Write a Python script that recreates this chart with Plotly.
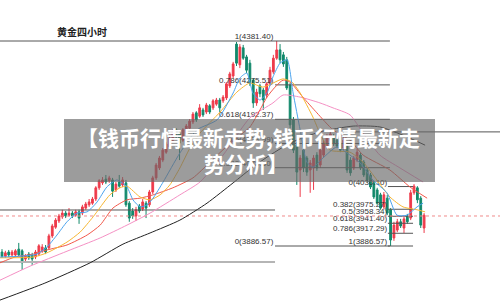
import plotly.graph_objects as go

# ---------------- data ----------------
open_ = [3872,3862,3872,3865,3865,3879,3875,3855,3867,3865,3860,3867,3875,3882,3882,3911,3932,3947,3957,3966,
         3961,3966,3961,3969,3966,3978,3986,3990,4000,4027,4039,4048,4044,4046,4022,4041,4034,4039,3990,3971,
         3959,3983,3976,3990,3986,4017,4051,4075,4094,4113,4126,4142,4167,4159,4142,4159,4171,4186,4208,4200,
         4215,4210,4225,4220,4229,4239,4237,4244,4273,4297,4374,4324,4365,4343,4328,4287,4232,4273,4263,4251,
         4278,4307,4340,4360,4348,4336,4275,4191,4130,4070,4118,4099,4070,4075,4106,4082,4106,4126,4142,4150,
         4142,4135,4123,4128,4094,4075,4094,4106,4089,4070,4058,4039,4022,4010,3981,4002,3974,3906,3925,3945,
         3930,3959,3954,4015,4027,4002,3930]
high = [3879,3875,3877,3877,3879,3894,3879,3867,3872,3870,3877,3891,3891,3889,3916,3940,3954,3964,3974,3971,
        3978,3971,3974,3974,3986,3993,4000,4005,4031,4048,4053,4058,4056,4051,4041,4058,4053,4046,3995,3978,
        3981,3988,4000,3995,4022,4056,4087,4104,4123,4138,4152,4169,4171,4164,4171,4181,4193,4210,4212,4229,
        4220,4232,4229,4241,4244,4244,4251,4282,4307,4331,4379,4374,4372,4348,4336,4292,4266,4278,4268,4282,
        4319,4348,4381.4,4374,4355,4343,4280,4198,4138,4106,4126,4104,4094,4106,4113,4126,4142,4157,4164,4157,
        4147,4140,4150,4135,4101,4104,4121,4111,4094,4075,4063,4044,4027,4015,4017,4010,3978,3945,3952,3952,
        3959,3964,4022,4036,4031,4007,3966]
low = [3858,3858,3860,3862,3862,3862,3829,3850,3853,3841,3855,3862,3870,3867,3877,3906,3928,3942,3952,3954,
       3957,3954,3957,3940,3961,3974,3981,3986,3995,4022,4034,4036,4039,4005,4017,4027,4029,3981,3945,3952,
       3947,3966,3971,3954,3981,4012,4046,4070,4089,4109,4121,4138,4145,4094,4138,4155,4167,4181,4186,4196,
       4198,4205,4205,4215,4225,4210,4232,4239,4268,4292,4321,4316,4336,4304,4273,4220,4225,4246,4215,4244,
       4273,4302,4336,4328,4319,4263,4171,4111,4034,4005,4065,4056,4015,4022,4068,4075,4101,4121,4138,4128,
       4123,4113,4118,4063,4056,4070,4089,4070,4053,4041,4024,4000,3986,3974,3976,3961,3886.57,3899,3920,3930,
       3918,3940,3949,4010,3990,3930,3918]
close = [3862,3870,3865,3872,3875,3865,3846,3862,3858,3855,3872,3887,3884,3872,3911,3935,3949,3959,3966,3959,
         3966,3959,3969,3954,3981,3988,3993,4000,4027,4044,4046,4041,4051,4019,4036,4031,4046,3986,3954,3959,
         3974,3971,3993,3978,4017,4051,4082,4099,4118,4133,4147,4164,4150,4135,4167,4176,4188,4205,4191,4220,
         4203,4227,4210,4237,4239,4220,4246,4278,4302,4326,4328,4367,4340,4311,4280,4232,4258,4254,4239,4278,
         4311,4340,4360,4336,4326,4268,4179,4118,4065,4099,4075,4065,4087,4099,4075,4118,4135,4150,4157,4133,
         4128,4118,4142,4070,4063,4099,4113,4075,4058,4046,4029,4005,3990,3978,4010,3966,3901,3937,3945,3935,
         3952,3945,4015,4031,3998,3937,3961]
bars = list(range(len(close)))

# moving-average lines (bar position, price)
ma_fast_x = [-0.6,5.4,10.4,13.4,16.4,19.4,22.4,25.4,28.4,31.3,34.3,37.3,39.1,41.2,43.3,45.1,48.1,53.1,58.2,64.2,
             69.0,71.0,73.1,74.9,77.0,79.1,80.9,83.0,85.1,86.9,89.0,91.0,92.8,95.8,100.0,103.0,106.9,110.7,114.9,
             117.9,120.9,123.9,125.7]
ma_fast_y = [3860,3862,3867,3884,3913,3945,3966,3969,3993,4029,4046,4029,3998,3981,3986,4002,4041,4111,4167,4191,
             4256,4292,4304,4256,4239,4256,4295,4328,4336,4256,4167,4089,4077,4099,4126,4111,4087,4046,4015,
             3961,3961,3981,3990]
ma_mid_x = [-0.6,9.3,13.4,19.4,23.3,27.2,32.2,35.2,37.3,41.2,44.2,47.2,50.1,53.1,56.1,59.1,65.1,70.1,74.0,77.9,
            80.9,83.9,86.6,89.0,92.8,94.9,97.9,103.9,107.8,111.9,115.8,119.7,123.9,126.3]
ma_mid_y = [3858,3860,3870,3896,3920,3957,4010,4027,4031,4005,3998,4010,4034,4075,4123,4159,4210,4258,4280,4270,
            4280,4290,4282,4256,4198,4159,4118,4113,4089,4046,4005,3981,3974,3969]
ma_red_x = [-0.6,3.9,9.3,13.4,19.4,25.4,29.3,33.1,37.3,41.2,45.1,51.0,57.0,62.1,68.1,74.0,77.0,79.1,81.5,83.9,
            86.0,89.8,94.0,98.8,103.9,107.8,115.8,121.8,126.9]
ma_red_y = [3846,3860,3867,3877,3889,3913,3937,3978,3998,4002,4010,4027,4051,4089,4135,4174,4215,4246,4270,4287,
            4282,4246,4208,4167,4142,4106,4070,4029,4002]
ma_pink_x = [-0.6,8.4,19.4,29.3,37.3,44.2,53.1,59.1,66.0,74.0,80.9,83.9,89.0,94.9,98.8,103.9,107.8,112.8,118.8,125.7]
ma_pink_y = [3804,3838,3874,3906,3937,3966,4010,4041,4106,4196,4232,4251,4246,4232,4220,4203,4159,4106,4075,4041]
ma_long_x = [-0.6,12.8,26.3,36.1,44.2,53.1,61.2,69.0,74.9,79.1,86.0,94.9,104.8,112.8,120.3,126.3]
ma_long_y = [3756,3797,3846,3891,3918,3949,3990,4039,4077,4101,4135,4162,4176,4174,4152,4130]

# Fibonacci tools
fib_a_high, fib_a_low = 4381.40, 3886.57
fib_a_levels = [1, 0.786, 0.618, 0.5, 0.382, 0]
fib_a_labels = ["1(4381.40)", "0.786(4275.51)", "0.618(4192.37)", "0.5(4133.99)", "0.382(4075.60)", "0(3886.57)"]
fib_b_top, fib_b_bottom = 4030.10, 3886.57
fib_b_levels = [0, 0.382, 0.5, 0.618, 0.786, 1]
fib_b_labels = ["0(4030.10)", "0.382(3975.27)", "0.5(3958.34)", "0.618(3941.40)", "0.786(3917.29)", "1(3886.57)"]
extra_levels = [3973.5, 3848.0, 4162.0]
last_price = 3959

title_text = "黄金四小时"
banner_line1 = "【钱币行情最新走势,钱币行情最新走"
banner_line2 = "势分析】"

# ---------------- layout positions (bar units) ----------------
X0, X1 = -0.6, 148.66
Y0, Y1 = 3753.8, 4480.4
fib_a_x = (81.5, 115.8)
fib_b_x = (115.2, 122.7)
extra_x = [(X0, 81.5), (X0, 81.5), (105.4, X1)]

RED = "#ee3b4b"
GREEN = "#12896b"
LABEL_FONT = dict(family="Liberation Sans, Arial", size=8, color="#333333")

fig = go.Figure()

def hline(y, x0, x1, color="#555555", width=1, dash="solid"):
    fig.add_trace(go.Scatter(x=[x0, x1], y=[y, y], mode="lines",
                             line=dict(color=color, width=width, dash=dash),
                             hoverinfo="skip", showlegend=False))

# extra horizontal lines
for lv, (a, b) in zip(extra_levels, extra_x):
    if lv == 3848.0:
        hline(lv, a, b, color="#b5b5b5", width=2)
    else:
        hline(lv, a, b)

# fib A
rng_a = fib_a_high - fib_a_low
for lvl, lab in zip(fib_a_levels, fib_a_labels):
    y = fib_a_low + lvl * rng_a
    x0 = X0 if lvl == 1 else fib_a_x[0]
    hline(y, x0, fib_a_x[1])
    fig.add_trace(go.Scatter(x=[fib_a_x[0] - 0.5], y=[y], mode="text", text=[lab],
                             textposition="top left", textfont=LABEL_FONT,
                             hoverinfo="skip", showlegend=False))
# fib B
rng_b = fib_b_top - fib_b_bottom
for lvl, lab in zip(fib_b_levels, fib_b_labels):
    y = fib_b_top - lvl * rng_b
    hline(y, fib_b_x[0], fib_b_x[1])
    fig.add_trace(go.Scatter(x=[fib_b_x[0] - 0.2], y=[y], mode="text", text=[lab],
                             textposition="top left", textfont=LABEL_FONT,
                             hoverinfo="skip", showlegend=False))

# last price dotted line
hline(last_price, X0, X1, color="#f08a8a", width=1, dash="dot")

# candles
fig.add_trace(go.Candlestick(
    x=bars, open=open_, high=high, low=low, close=close,
    increasing=dict(line=dict(color=RED, width=1), fillcolor=RED),
    decreasing=dict(line=dict(color=GREEN, width=1), fillcolor=GREEN),
    whiskerwidth=0, hoverinfo="skip", showlegend=False))

# moving averages
for xs, ys, col in [(ma_long_x, ma_long_y, "#222222"),
                    (ma_pink_x, ma_pink_y, "#f590c4"),
                    (ma_red_x, ma_red_y, "#f2584a"),
                    (ma_mid_x, ma_mid_y, "#f7b733"),
                    (ma_fast_x, ma_fast_y, "#4aa3ee")]:
    fig.add_trace(go.Scatter(x=xs, y=ys, mode="lines", line=dict(color=col, width=1, shape="spline", smoothing=0.6),
                             hoverinfo="skip", showlegend=False))

# title
fig.add_annotation(text="<b>" + title_text + "</b>", xref="paper", yref="paper",
                   x=81.5 / 500, y=1 - 31 / 301, xanchor="center", yanchor="middle", showarrow=False,
                   font=dict(family="Noto Sans CJK SC", size=10, color="#222222"))

# banner overlay
fig.add_shape(type="rect", xref="paper", yref="paper",
              x0=64 / 500, x1=435 / 500, y0=1 - 182 / 301, y1=1 - 119 / 301,
              fillcolor="rgba(105,105,105,0.66)", line=dict(width=0), layer="above")
fig.add_annotation(text="<b>" + banner_line1 + "</b>", xref="paper", yref="paper",
                   x=248 / 500, y=1 - 137 / 301, xanchor="center", yanchor="middle", showarrow=False,
                   font=dict(family="Noto Sans CJK SC", size=21, color="white"))
fig.add_annotation(text="<b>" + banner_line2 + "</b>", xref="paper", yref="paper",
                   x=246 / 500, y=1 - 163 / 301, xanchor="center", yanchor="middle", showarrow=False,
                   font=dict(family="Noto Sans CJK SC", size=21, color="white"))

fig.update_layout(
    width=500, height=301, margin=dict(l=0, r=0, t=0, b=0),
    paper_bgcolor="white", plot_bgcolor="white",
    xaxis=dict(range=[X0, X1], visible=False, rangeslider=dict(visible=False), fixedrange=True),
    yaxis=dict(range=[Y0, Y1], visible=False, fixedrange=True),
    boxgap=0.25,
)

fig.write_html("out.html")
